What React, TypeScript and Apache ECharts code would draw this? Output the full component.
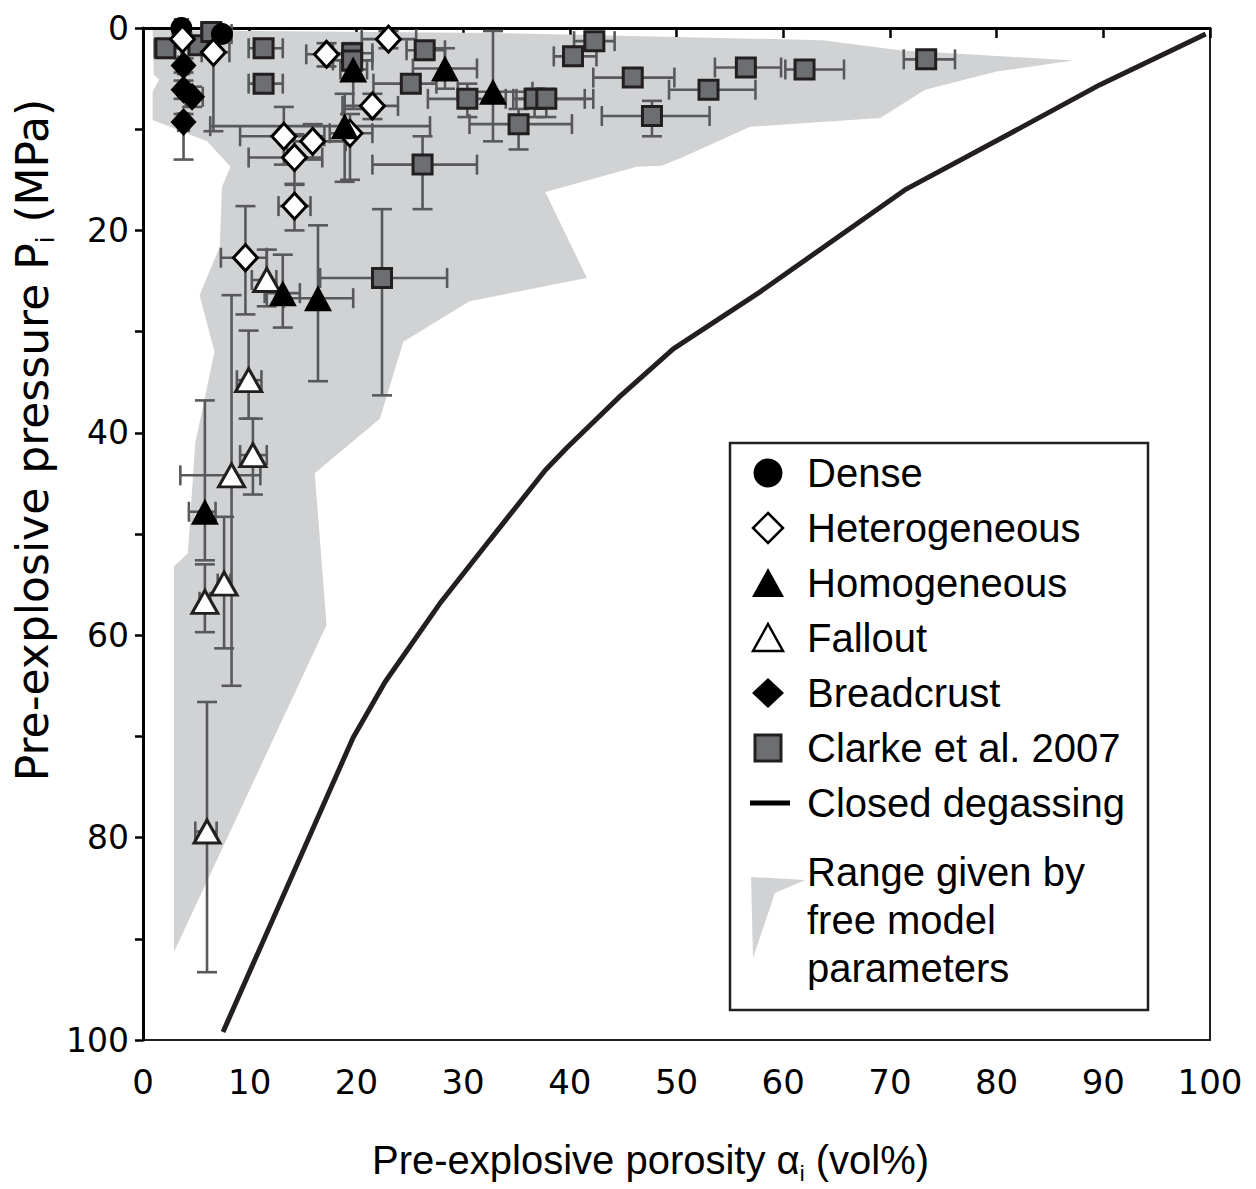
import React, { useEffect, useRef } from "react";
import * as echarts from "echarts";

// [x, y, xLow, xHigh, yLow, yHigh]
const DENSE = [
  [3.6, 0.0, 3.0, 4.2, 0.0, 0.6],
  [7.4, 0.6, 6.5, 8.3, 0.0, 1.2],
];
const HETEROGENEOUS = [
  [3.7, 1.1, 3.1, 4.3, 0.5, 1.7],
  [6.6, 2.4, 5.5, 8.1, 1.0, 10.2],
  [17.2, 2.6, 15.3, 18.9, 1.5, 3.8],
  [23.0, 1.1, 20.5, 25.6, 0.3, 2.0],
  [21.5, 7.7, 18.7, 23.9, 6.5, 9.0],
  [13.2, 10.7, 9.1, 17.0, 7.8, 13.5],
  [15.9, 11.2, 13.5, 19.0, 9.5, 13.0],
  [14.2, 12.8, 9.9, 16.8, 10.5, 15.4],
  [19.4, 10.4, 17.5, 21.5, 8.5, 15.0],
  [14.2, 17.6, 12.7, 15.7, 15.5, 20.0],
  [9.6, 22.7, 7.3, 11.6, 17.6, 28.3],
];
const HOMOGENEOUS = [
  [19.7, 4.1, 18.5, 21.0, 1.5, 8.0],
  [18.9, 9.7, 6.3, 26.9, 6.5, 15.2],
  [28.3, 4.0, 25.3, 31.3, 2.0, 6.0],
  [32.8, 6.3, 29.5, 36.5, 0.3, 11.2],
  [13.1, 26.2, 11.4, 14.7, 22.4, 29.6],
  [16.4, 26.7, 13.2, 19.7, 19.5, 34.9],
  [5.8, 47.8, 4.3, 6.8, 36.8, 52.6],
];
const FALLOUT = [
  [11.6, 24.9, 10.2, 12.5, 21.9, 27.5],
  [9.9, 34.8, 8.8, 11.1, 29.9, 38.6],
  [10.3, 42.2, 9.1, 11.6, 38.6, 46.1],
  [8.3, 44.2, 3.5, 11.0, 26.4, 65.0],
  [7.6, 54.9, 7.0, 8.2, 48.3, 61.3],
  [5.8, 56.7, 5.3, 6.3, 53.0, 59.7],
  [6.0, 79.4, 4.9, 6.9, 66.6, 93.3],
];
const BREADCRUST = [
  [3.8, 3.7, 3.3, 4.3, 3.0, 4.4],
  [3.8, 6.1, 3.3, 4.3, 5.2, 7.0],
  [4.6, 6.8, 4.0, 5.6, 5.8, 7.8],
  [3.8, 9.3, 3.3, 4.3, 8.5, 13.0],
];
const CLARKE = [
  [2.1, 2.0, 1.1, 3.6, 1.2, 2.8],
  [5.2, 1.7, 4.3, 6.5, 0.9, 2.5],
  [6.4, 0.4, 5.5, 7.3, 0.0, 1.0],
  [11.3, 2.0, 9.9, 13.1, 1.3, 2.7],
  [11.3, 5.5, 9.9, 13.1, 4.8, 6.2],
  [19.6, 2.5, 17.8, 21.5, 1.5, 3.5],
  [19.6, 3.2, 17.8, 21.5, 2.5, 4.2],
  [26.4, 2.2, 24.7, 28.3, 1.5, 3.0],
  [25.1, 5.5, 21.6, 27.5, 4.8, 6.3],
  [26.2, 13.5, 21.5, 31.3, 10.7, 17.9],
  [22.4, 24.7, 16.6, 28.5, 17.9, 36.3],
  [30.4, 7.0, 26.7, 34.0, 5.5, 8.8],
  [36.7, 7.0, 34.7, 41.4, 6.0, 8.8],
  [37.8, 7.0, 35.0, 42.2, 6.0, 8.8],
  [35.2, 9.5, 30.6, 40.2, 8.0, 12.0],
  [40.3, 2.8, 38.5, 42.5, 2.0, 3.6],
  [42.3, 1.3, 40.4, 44.2, 0.5, 2.0],
  [45.9, 4.9, 42.2, 49.8, 4.2, 5.6],
  [47.7, 8.7, 43.0, 53.1, 7.2, 10.7],
  [53.0, 6.1, 49.3, 57.4, 5.5, 6.7],
  [56.5, 3.9, 53.6, 59.8, 3.3, 4.5],
  [62.0, 4.1, 60.2, 65.7, 3.5, 4.7],
  [73.4, 3.1, 71.3, 76.1, 2.5, 3.7],
];
const CLOSED_DEGASSING = [
  [7.5, 99.2], [19.7, 70.1], [22.7, 64.6], [27.8, 56.9], [32.5, 50.6],
  [37.7, 43.7], [39.7, 41.5], [44.7, 36.4], [49.7, 31.7], [57.8, 26.1],
  [71.4, 16.0], [81.3, 10.4], [89.7, 5.6], [99.6, 0.6],
];
const RANGE_POLYGON = [
  [0.9, 0.2], [33, 0.5], [63.7, 1.2], [70.9, 2.2], [87.2, 3.2], [80, 4.3],
  [73.3, 6.1], [69.1, 8.9], [56.9, 9.75], [54.1, 11.1], [50.3, 12.9],
  [48.6, 13.6], [46.3, 13.7], [37.7, 16.2], [41.6, 24.7], [30.6, 27.0],
  [24.4, 31.0], [22.2, 38.6], [16.1, 44.0], [17.2, 59.0], [2.9, 91.3],
  [2.9, 53.2], [4.2, 51.9], [4.9, 41.0], [6.7, 32.0], [5.3, 26.4],
  [7.2, 21.6], [7.4, 15.7], [8.2, 13.7], [6.0, 11.2], [0.9, 9.1],
  [0.9, 6.3], [1.5, 5.1], [1.0, 4.6],
];
const X_TICKS = { min: 0, max: 100, step: 10 };
const Y_TICKS = { min: 0, max: 100, step: 10, labelEvery: 20 };
const LEGEND_LABELS = ["Dense", "Heterogeneous", "Homogeneous", "Fallout", "Breadcrust", "Clarke et al. 2007", "Closed degassing"];
const RANGE_LABEL = ["Range given by", "free model", "parameters"];

const FONT = "'Liberation Sans', Arial, Helvetica, sans-serif";
const TICK_FONT = "'DejaVu Sans', sans-serif";
const BAR_COLOR = "#58595b";

export default function App() {
  const ref = useRef<HTMLDivElement>(null);
  useEffect(() => {
    if (!ref.current) return;
    const chart = echarts.init(ref.current, null, { renderer: "svg" });

    const allBars = [...CLARKE, ...DENSE, ...HETEROGENEOUS, ...BREADCRUST, ...FALLOUT, ...HOMOGENEOUS];

    const errorRender = (params: any, api: any) => {
      const x = api.value(0), y = api.value(1);
      const c = api.coord([x, y]);
      const l = api.coord([api.value(2), y]);
      const r = api.coord([api.value(3), y]);
      const t = api.coord([x, api.value(4)]);
      const b = api.coord([x, api.value(5)]);
      const cap = 10;
      const st = { stroke: BAR_COLOR, lineWidth: 2.6 };
      return {
        type: "group",
        children: [
          { type: "line", shape: { x1: l[0], y1: c[1], x2: r[0], y2: c[1] }, style: st },
          { type: "line", shape: { x1: l[0], y1: c[1] - cap, x2: l[0], y2: c[1] + cap }, style: st },
          { type: "line", shape: { x1: r[0], y1: c[1] - cap, x2: r[0], y2: c[1] + cap }, style: st },
          { type: "line", shape: { x1: c[0], y1: t[1], x2: c[0], y2: b[1] }, style: st },
          { type: "line", shape: { x1: c[0] - cap, y1: t[1], x2: c[0] + cap, y2: t[1] }, style: st },
          { type: "line", shape: { x1: c[0] - cap, y1: b[1], x2: c[0] + cap, y2: b[1] }, style: st },
        ],
      };
    };

    const scatter = (name: string, data: number[][], symbol: string, size: any, fill: string, stroke: string, bw: number, z: number) => ({
      name,
      type: "scatter",
      data: data.map((d) => [d[0], d[1]]),
      symbol,
      symbolSize: size,
      itemStyle: { color: fill, borderColor: stroke, borderWidth: bw, opacity: 1 },
      z,
      silent: true,
    });

    const lx = 768;
    const rowY = [473, 528, 583, 638, 693, 748, 803];

    const txt = (s: string, y: number) => ({
      type: "text",
      x: 807,
      y,
      style: { text: s, font: `40px ${FONT}`, fill: "#000", align: "left", verticalAlign: "middle" },
      z: 100,
    });

    const option: any = {
      animation: false,
      grid: { left: 143, right: 46, top: 28, bottom: 149, show: true, borderColor: "#231f20", borderWidth: 2, backgroundColor: "transparent" },
      xAxis: {
        type: "value",
        min: X_TICKS.min,
        max: X_TICKS.max,
        interval: X_TICKS.step,
        name: "Pre-explosive porosity {a|α}{sub|i} (vol%)",
        nameLocation: "middle",
        nameGap: 96,
        nameTextStyle: {
          fontFamily: FONT, fontSize: 40, color: "#000", padding: [0, 52, 0, 0],
          rich: {
            a: { fontFamily: FONT, fontSize: 40, color: "#000" },
            sub: { fontFamily: FONT, fontSize: 22, color: "#000", padding: [26, 0, 0, 0] },
          },
        },
        axisLine: { lineStyle: { color: "#000", width: 3 } },
        axisTick: { show: true, length: 10, lineStyle: { color: "#000", width: 2.5 } },
        axisLabel: { fontFamily: TICK_FONT, fontSize: 34, color: "#000", margin: 25 },
        splitLine: { show: false },
      },
      yAxis: {
        type: "value",
        inverse: true,
        min: Y_TICKS.min,
        max: Y_TICKS.max,
        interval: Y_TICKS.step,
        axisLine: { lineStyle: { color: "#000", width: 3 } },
        axisTick: { show: true, length: 8, lineStyle: { color: "#000", width: 2.5 } },
        axisLabel: {
          fontFamily: TICK_FONT, fontSize: 33, color: "#000", margin: 14,
          formatter: (v: number) => (v % Y_TICKS.labelEvery === 0 ? String(v) : ""),
        },
        splitLine: { show: false },
      },
      series: [
        {
          name: "Range given by free model parameters",
          type: "custom",
          data: [[0, 0]],
          z: 1,
          silent: true,
          renderItem: (params: any, api: any) => ({
            type: "polygon",
            shape: { points: RANGE_POLYGON.map((p) => api.coord(p)) },
            style: { fill: "#d1d2d4" },
          }),
        },
        {
          name: "Closed degassing",
          type: "line",
          data: CLOSED_DEGASSING,
          showSymbol: false,
          symbol: "none",
          lineStyle: { color: "#231f20", width: 5 },
          z: 2,
          silent: true,
        },
        {
          name: "errors",
          type: "custom",
          data: allBars,
          encode: { x: 0, y: 1 },
          renderItem: errorRender,
          z: 3,
          silent: true,
        },
        scatter("Clarke et al. 2007", CLARKE, "rect", 19, "#6d6e71", "#231f20", 3, 4),
        scatter("Dense", DENSE, "circle", 22, "#000", "#000", 0, 5),
        scatter("Heterogeneous", HETEROGENEOUS, "diamond", [24, 26], "#fff", "#000", 3, 6),
        scatter("Breadcrust", BREADCRUST, "diamond", [26, 28], "#000", "#000", 0, 7),
        scatter("Fallout", FALLOUT, "triangle", [26, 23], "#fff", "#231f20", 3, 8),
        scatter("Homogeneous", HOMOGENEOUS, "triangle", [28, 26], "#000", "#000", 0, 9),
      ],
      graphic: [
        {
          type: "text",
          x: 32,
          y: 440,
          rotation: Math.PI / 2,
          style: {
            text: "Pre-explosive pressure P{sub|i} (MPa)",
            font: `44px ${TICK_FONT}`,
            fill: "#000",
            align: "center",
            verticalAlign: "middle",
            rich: {
              sub: { font: `24px ${TICK_FONT}`, fill: "#000", padding: [28, 0, 0, 0] },
            },
          },
          z: 100,
        },
        {
          type: "rect",
          shape: { x: 730, y: 443, width: 418, height: 567 },
          style: { fill: "#fff", stroke: "#231f20", lineWidth: 2.5 },
          z: 90,
        },
        { type: "circle", shape: { cx: lx, cy: rowY[0], r: 14.5 }, style: { fill: "#000" }, z: 100 },
        {
          type: "polygon",
          shape: { points: [[lx, rowY[1] - 15], [lx + 15, rowY[1]], [lx, rowY[1] + 15], [lx - 15, rowY[1]]] },
          style: { fill: "#fff", stroke: "#000", lineWidth: 2.5 },
          z: 100,
        },
        {
          type: "polygon",
          shape: { points: [[lx, rowY[2] - 15], [lx + 16, rowY[2] + 14], [lx - 16, rowY[2] + 14]] },
          style: { fill: "#000" },
          z: 100,
        },
        {
          type: "polygon",
          shape: { points: [[lx, rowY[3] - 14], [lx + 15, rowY[3] + 13], [lx - 15, rowY[3] + 13]] },
          style: { fill: "#fff", stroke: "#000", lineWidth: 2.5 },
          z: 100,
        },
        {
          type: "polygon",
          shape: { points: [[lx, rowY[4] - 15], [lx + 16, rowY[4]], [lx, rowY[4] + 15], [lx - 16, rowY[4]]] },
          style: { fill: "#000" },
          z: 100,
        },
        {
          type: "rect",
          shape: { x: lx - 13, y: rowY[5] - 13, width: 26, height: 26 },
          style: { fill: "#6d6e71", stroke: "#231f20", lineWidth: 3 },
          z: 100,
        },
        {
          type: "line",
          shape: { x1: lx - 18, y1: rowY[6], x2: lx + 22, y2: rowY[6] },
          style: { stroke: "#000", lineWidth: 5 },
          z: 100,
        },
        {
          type: "polygon",
          shape: { points: [[751, 877], [805, 880], [775, 893], [753, 958]] },
          style: { fill: "#d1d2d4" },
          z: 100,
        },
        ...LEGEND_LABELS.map((s, i) => txt(s, rowY[i])),
        ...RANGE_LABEL.map((s, i) => txt(s, 872 + i * 48)),
      ],
    };
    chart.setOption(option);
    return () => chart.dispose();
  }, []);
  return <div ref={ref} style={{ position: "absolute", left: 0, top: 0, width: 1256, height: 1189 }} />;
}
